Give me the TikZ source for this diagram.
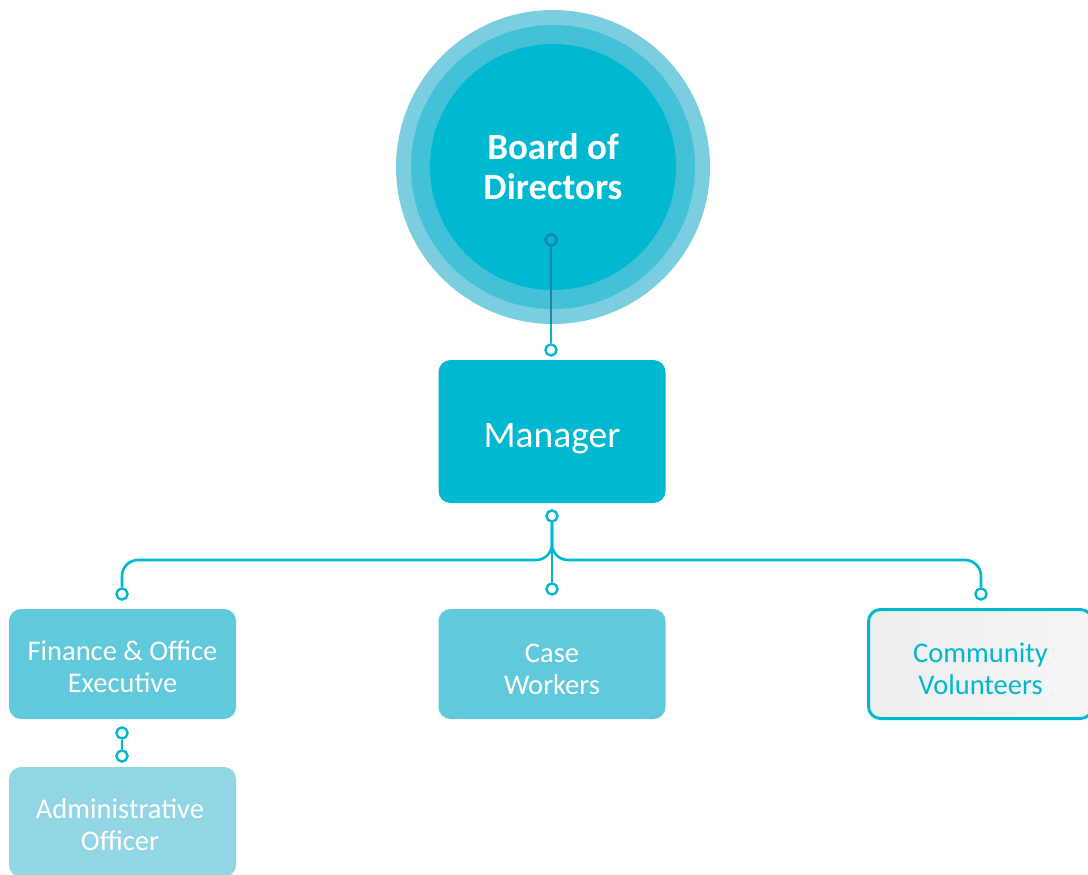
\documentclass[tikz,border=0pt]{standalone}
\usepackage{fontspec}
\setmainfont{Carlito}
\definecolor{cyanA}{HTML}{00B8D0}
\definecolor{ringmid}{HTML}{43C1D7}
\definecolor{ringout}{HTML}{7BCEE0}
\definecolor{darkline}{HTML}{1B86A9}
\definecolor{boxB}{HTML}{60C9DB}
\definecolor{boxC}{HTML}{92D6E5}
\definecolor{grayL}{HTML}{EEEEEE}
\definecolor{grayR}{HTML}{F6F5F5}
\tikzset{
  conn/.style={line width=2.6pt, draw=cyanA},
  dot/.style={circle, draw=cyanA, fill=white, line width=2.2pt, minimum size=11pt, inner sep=0pt},
  box/.style={rounded corners=12pt, minimum width=227pt, minimum height=110pt, inner sep=0pt},
  boxtext/.style={align=center, text=white, font=\fontsize{28.5}{32}\selectfont},
}
\begin{document}
\begin{tikzpicture}[x=1pt,y=-1pt]
\useasboundingbox (0,0) rectangle (1088,875);
\clip (0,0) rectangle (1088,875);
% Board circle
\fill[ringout] (553,167) circle (157);
\fill[ringmid] (553,167) circle (142);
\node[circle, fill=cyanA, minimum size=246pt, inner sep=0pt] (board) at (553,167) {};
\node[text=white, align=center, font=\fontsize{37}{40}\selectfont\bfseries] (boardtxt) at (553,167) {Board of\\Directors};
% Manager
\node[box, fill=cyanA, minimum height=143pt] (mgr) at (552,431.5) {};
\node[boxtext, font=\fontsize{37.5}{40}\selectfont] (mgrtxt) at (552,439) {Manager};
% Second level
\node[box, fill=boxB] (fin) at (122.5,664) {};
\node[boxtext] (fintxt) at (122.5,667) {Finance \& Office\\Executive};
\node[box, fill=boxB] (case) at (552,664) {};
\node[boxtext] (casetxt) at (552,669) {Case\\Workers};
\node[box, shading=axis, left color=grayL, right color=grayR, draw=cyanA, line width=3pt, minimum width=224pt, minimum height=109pt] (comm) at (980.5,664) {};
\node[boxtext, text=cyanA] (commtxt) at (980.5,669) {Community\\Volunteers};
\node[box, fill=boxC] (adm) at (122.5,822) {};
\node[boxtext] (admtxt) at (120,825) {Administrative\\Officer};
% dots
\node[circle, draw=darkline, fill=cyanA, line width=2.2pt, minimum size=11pt, inner sep=0pt] (d0) at (551,240) {};
\coordinate (edge0) at (551,324);
\node[dot] (d1) at (551,350) {};
\node[dot] (d2) at (552,516) {};
\node[dot] (d3) at (552,589) {};
\node[dot] (dl) at (122,594) {};
\node[dot] (dr) at (981,594) {};
\node[dot] (da1) at (122,733) {};
\node[dot] (da2) at (122,756) {};
% connectors
\draw[line width=2.6pt, darkline] (d0) -- (edge0);
\draw[conn] (edge0) -- (d1);
\draw[conn] (d2) -- (d3);
\draw[conn, rounded corners=16pt] (d2.south) |- (dl.north |- 0,560) -- (dl);
\draw[conn, rounded corners=16pt] (d2.south) |- (dr.north |- 0,560) -- (dr);
\draw[conn] (da1) -- (da2);
% redraw dots on top
\node[dot] at (d2) {};
\node[dot] at (d3) {};
\node[dot] at (dl) {};
\node[dot] at (dr) {};
\node[dot] at (d1) {};
\node[circle, draw=darkline, fill=cyanA, line width=2.2pt, minimum size=11pt, inner sep=0pt] at (d0) {};
\node[dot] at (da1) {};
\node[dot] at (da2) {};
\end{tikzpicture}
\end{document}
